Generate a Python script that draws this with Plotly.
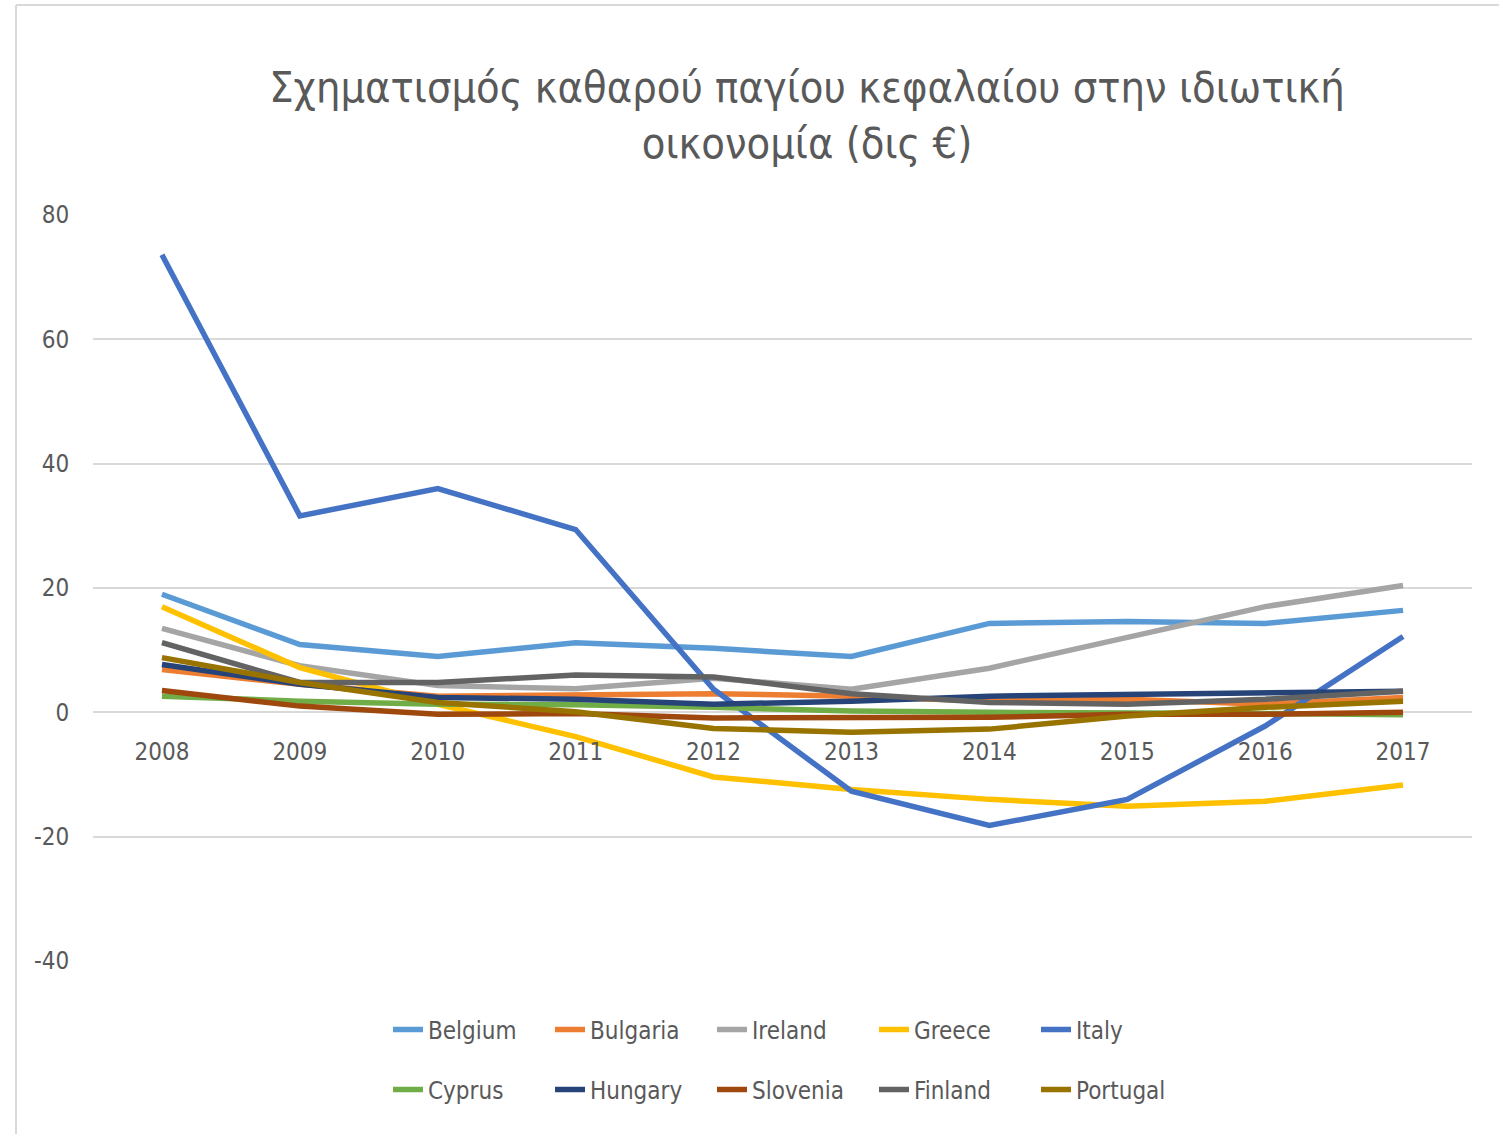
import plotly.graph_objects as go

years = [2008, 2009, 2010, 2011, 2012, 2013, 2014, 2015, 2016, 2017]
year_labels = [str(y) for y in years]

belgium  = [19.0, 10.9, 9.0, 11.2, 10.3, 9.0, 14.3, 14.6, 14.3, 16.4]
bulgaria = [6.9, 4.5, 2.6, 2.9, 3.0, 2.6, 1.8, 2.1, 1.3, 2.4]
ireland  = [13.5, 7.5, 4.3, 3.8, 5.5, 3.7, 7.1, 12.0, 17.0, 20.4]
greece   = [17.0, 7.2, 1.3, -3.9, -10.4, -12.4, -14.0, -15.1, -14.3, -11.7]
italy    = [73.6, 31.6, 36.0, 29.4, 3.7, -12.7, -18.2, -14.0, -2.2, 12.2]
cyprus   = [2.6, 1.8, 1.3, 1.2, 0.8, 0.2, 0.0, 0.0, -0.2, -0.4]
hungary  = [7.7, 4.5, 2.4, 2.1, 1.3, 1.8, 2.6, 2.9, 3.2, 3.4]
slovenia = [3.5, 1.0, -0.3, -0.2, -0.9, -0.9, -0.8, -0.3, -0.3, 0.0]
finland  = [11.2, 4.8, 4.8, 6.0, 5.7, 3.0, 1.6, 1.3, 2.1, 3.4]
portugal = [8.8, 4.8, 1.6, 0.1, -2.6, -3.2, -2.7, -0.6, 0.8, 1.8]

series_names = ["Belgium", "Bulgaria", "Ireland", "Greece", "Italy",
                "Cyprus", "Hungary", "Slovenia", "Finland", "Portugal"]
series_values = [belgium, bulgaria, ireland, greece, italy,
                 cyprus, hungary, slovenia, finland, portugal]
colors = ["#5B9BD5", "#ED7D31", "#A5A5A5", "#FFC000", "#4472C4",
          "#70AD47", "#264478", "#9E480E", "#636363", "#997300"]

y_ticks = [-40, -20, 0, 20, 40, 60, 80]
y_tick_labels = ["-40", "-20", "0", "20", "40", "60", "80"]

title_text = "Σχηματισμός καθαρού παγίου κεφαλαίου στην ιδιωτική<br>οικονομία (δις €)"

FONT = "DejaVu Sans Condensed, Liberation Sans Narrow, sans-serif"
TEXT_COLOR = "#595959"

fig = go.Figure()
for i, (name, vals, col) in enumerate(zip(series_names, series_values, colors)):
    fig.add_trace(go.Scatter(
        x=list(range(len(years))), y=vals, name=name, mode="lines",
        line=dict(color=col, width=5.5),
        legend="legend" if i < 5 else "legend2",
    ))

W, H = 1499, 1134
L, R, T, B = 93, 1472, 215, 961

def px_x(p):
    return (p - L) / (R - L)

def px_y(p):
    return (B - p) / (B - T)

legend_common = dict(
    orientation="h", xref="container", yref="container",
    x=388 / W, xanchor="left", yanchor="middle",
    entrywidth=117, entrywidthmode="pixels",
    font=dict(family=FONT, size=24, color=TEXT_COLOR),
    bgcolor="rgba(0,0,0,0)", tracegroupgap=0, itemwidth=30,
)

fig.update_layout(
    width=W, height=H,
    margin=dict(l=L, r=W - R, t=T, b=H - B, autoexpand=False),
    paper_bgcolor="white", plot_bgcolor="white",
    font=dict(family=FONT, color=TEXT_COLOR, size=24),
    title=dict(text=title_text, x=807 / W, xanchor="center", xref="container",
               y=1 - 102 / H, yanchor="middle", yref="container",
               font=dict(family=FONT, size=43, color=TEXT_COLOR)),
    xaxis=dict(
        range=[-0.5, len(years) - 0.5],
        tickmode="array", tickvals=list(range(len(years))), ticktext=year_labels,
        showgrid=False, zeroline=False, showline=False,
        anchor="free", position=(0 - y_ticks[0]) / (y_ticks[-1] - y_ticks[0]),
        ticks="outside", ticklen=18, tickcolor="rgba(0,0,0,0)",
        tickfont=dict(family=FONT, size=24, color=TEXT_COLOR),
    ),
    yaxis=dict(
        range=[y_ticks[0], y_ticks[-1]],
        tickmode="array", tickvals=y_ticks, ticktext=y_tick_labels,
        showgrid=True, gridcolor="#D9D9D9", gridwidth=1.5,
        zeroline=False, showline=False,
        ticks="outside", ticklen=18, tickcolor="rgba(0,0,0,0)",
        tickfont=dict(family=FONT, size=24, color=TEXT_COLOR),
    ),
    legend=dict(legend_common, y=1 - 1030 / H),
    legend2=dict(legend_common, y=1 - 1090 / H),
    showlegend=True,
)

# chart frame (left and top border)
fig.add_shape(type="line", xref="paper", yref="paper",
              x0=px_x(16), x1=px_x(16), y0=px_y(5), y1=px_y(H),
              line=dict(color="#D9D9D9", width=2))
fig.add_shape(type="line", xref="paper", yref="paper",
              x0=px_x(16), x1=px_x(W), y0=px_y(5), y1=px_y(5),
              line=dict(color="#D9D9D9", width=2))

fig.write_html("out.html", config={"displayModeBar": False},
               post_script="document.body.style.margin='0';")
